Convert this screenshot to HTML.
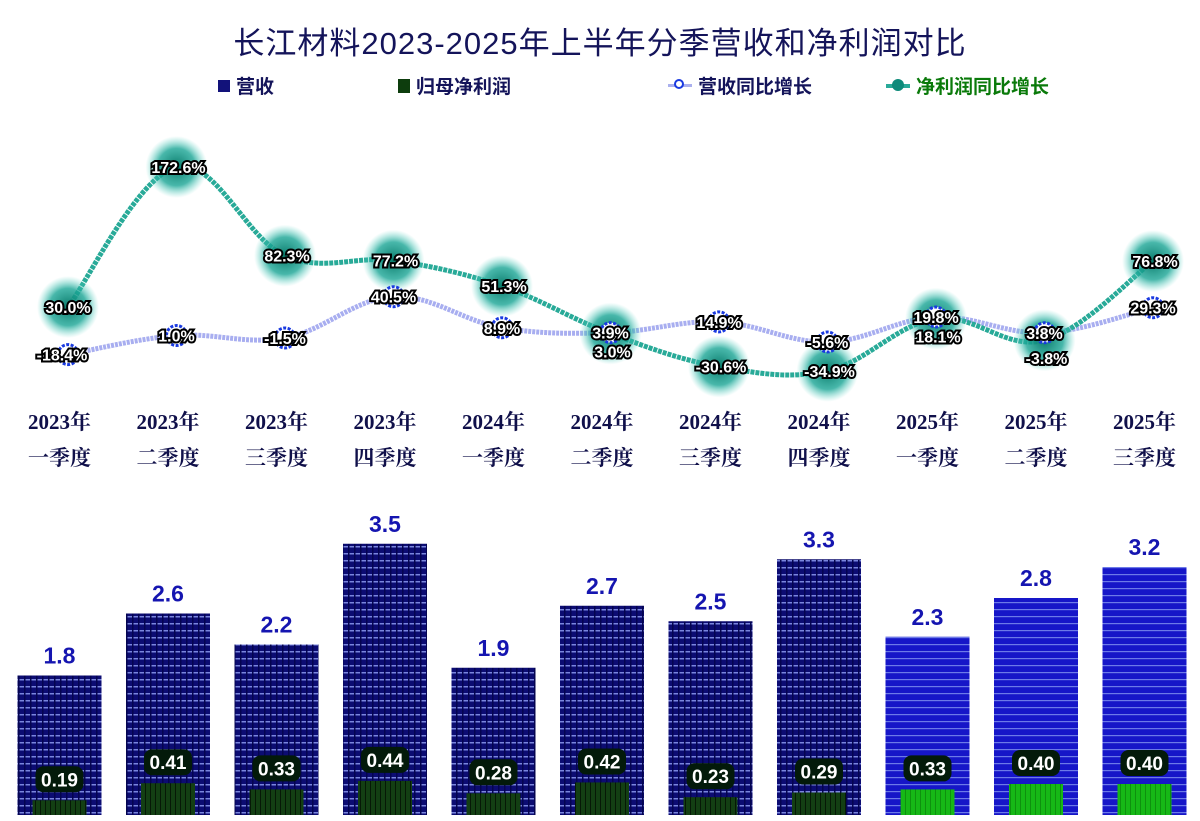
<!DOCTYPE html>
<html><head><meta charset="utf-8">
<style>
body{margin:0;width:1200px;height:821px;background:#fff;overflow:hidden;position:relative;font-family:"Liberation Sans","Noto Sans CJK SC",sans-serif}
#title{position:absolute;left:0;width:1200px;top:18px;text-align:center;font-size:31px;color:#14145a;font-family:"Liberation Sans","Noto Sans CJK SC",sans-serif;letter-spacing:1px}
.leg{position:absolute;top:72px;font-size:19px;font-weight:bold;color:#14145a;display:flex;align-items:center;gap:6px}
.xl{position:absolute;width:108px;text-align:center;font-family:"Liberation Serif","Noto Serif CJK SC",serif;font-weight:bold;font-size:21px;color:#10104a}
</style></head><body>
<div id="title">长江材料2023-2025年上半年分季营收和净利润对比</div>
<div class="leg" style="left:218px"><span style="width:12px;height:12px;background:#12127a;display:inline-block"></span>营收</div>
<div class="leg" style="left:398px"><span style="width:12px;height:14px;background:#0d3d0d;display:inline-block"></span>归母净利润</div>
<div class="leg" style="left:668px"><span style="width:24px;height:3px;background:#aab0ee;display:inline-block;position:relative"><i style="position:absolute;left:6px;top:-5px;width:10px;height:10px;border:2px solid #1a3ae0;border-radius:50%;box-sizing:border-box;background:#fff"></i></span>营收同比增长</div>
<div class="leg" style="left:886px;color:#0a7a0a"><span style="width:24px;height:4px;background:#2aaa99;display:inline-block;position:relative"><i style="position:absolute;left:6px;top:-5px;width:12px;height:12px;background:#0e8a7a;border-radius:50%"></i></span>净利润同比增长</div>
<svg id="chart" width="1200" height="821" style="position:absolute;left:0;top:0">
<defs>
<pattern id="pd" width="6" height="7" patternUnits="userSpaceOnUse"><rect width="6" height="7" fill="#0c0c72"/><rect y="0" width="6" height="1.5" fill="#7a86dd"/><rect x="0" width="1.5" height="7" fill="#050550"/></pattern>
<pattern id="pb" width="6" height="7" patternUnits="userSpaceOnUse"><rect width="6" height="7" fill="#1616c8"/><rect y="0" width="6" height="1.2" fill="#6c7ae8"/></pattern>
<pattern id="gd" width="5" height="5" patternUnits="userSpaceOnUse"><rect width="5" height="5" fill="#133f13"/><rect width="1" height="5" fill="#061806"/></pattern>
<pattern id="gb" width="5" height="5" patternUnits="userSpaceOnUse"><rect width="5" height="5" fill="#16b816"/><rect width="1" height="5" fill="#0e900e"/></pattern>
<radialGradient id="glow"><stop offset="0" stop-color="#0a7a6a"/><stop offset="0.6" stop-color="#1aa595" stop-opacity="0.8"/><stop offset="1" stop-color="#5fd6c8" stop-opacity="0"/></radialGradient>
</defs>
</svg>
<script>
const categories=["2023年一季度","2023年二季度","2023年三季度","2023年四季度","2024年一季度","2024年二季度","2024年三季度","2024年四季度","2025年一季度","2025年二季度","2025年三季度"];
const revenue=[1.8,2.6,2.2,3.5,1.9,2.7,2.5,3.3,2.3,2.8,3.2];
const netProfit=[0.19,0.41,0.33,0.44,0.28,0.42,0.23,0.29,0.33,0.40,0.40];
const revenueGrowth=[-18.4,1.0,-1.5,40.5,8.9,3.9,14.9,-5.6,19.8,3.8,29.3];
const netGrowth=[30.0,172.6,82.3,77.2,51.3,3.0,-30.6,-34.9,18.1,-3.8,76.8];
const svg=document.getElementById('chart');
const NS='http://www.w3.org/2000/svg';
function mk(t,a){const e=document.createElementNS(NS,t);for(const k in a)e.setAttribute(k,a[k]);svg.appendChild(e);return e;}
const base=815, yb=v=>base-v*77.5, xb=i=>59.5+i*108.5, xp=i=>68+i*108.5, yp=v=>336.5-v*0.982;
categories.forEach((c,i)=>{
 const bright=i>=8;
 const r=mk('rect',{x:xb(i)-42,y:yb(revenue[i]),width:84,height:base-yb(revenue[i]),fill:bright?'url(#pb)':'url(#pd)'});
 
 const t=mk('text',{x:xb(i),y:yb(revenue[i])-12,'text-anchor':'middle','font-size':23,'font-weight':'bold',fill:'#1515b0','font-family':'Liberation Sans, sans-serif'});t.textContent=revenue[i].toFixed(1);
 
 const n=mk('rect',{x:xb(i)-27,y:yb(netProfit[i]),width:54,height:base-yb(netProfit[i]),fill:bright?'url(#gb)':'url(#gd)'});
 
 const ly=yb(netProfit[i])-22;
 const bx=mk('rect',{x:xb(i)-24,y:ly-12,width:48,height:26,rx:8,fill:'#031a0a'});
 
 const nt=mk('text',{x:xb(i),y:ly+8,'text-anchor':'middle','font-size':19,'font-weight':'bold',fill:'#fff','font-family':'Liberation Sans, sans-serif'});nt.textContent=netProfit[i].toFixed(2);
 
 const d=document.createElement('div');d.className='xl';d.style.left=(xb(i)-54)+'px';d.style.top='406px';
 d.innerHTML=c.slice(0,5)+'<br><span style="line-height:44px">'+c.slice(5)+'</span>';
 
 document.body.appendChild(d);
});
function path(vals){const p=vals.map((v,i)=>[xp(i),yp(v)]);let d='M'+p[0][0]+','+p[0][1];
 for(let i=0;i<p.length-1;i++){const p0=p[i-1]||p[i],p1=p[i],p2=p[i+1],p3=p[i+2]||p2;const t=0.18;
 d+=` C${p1[0]+(p2[0]-p0[0])*t},${p1[1]+(p2[1]-p0[1])*t} ${p2[0]-(p3[0]-p1[0])*t},${p2[1]-(p3[1]-p1[1])*t} ${p2[0]},${p2[1]}`;}return d;}
const lr=mk('path',{d:path(revenueGrowth),stroke:'#a8aef0',fill:'none','stroke-width':5,'stroke-dasharray':'3 1'});

const ln=mk('path',{d:path(netGrowth),stroke:'#28aa98',fill:'none','stroke-width':5,'stroke-dasharray':'4 1'});

netGrowth.forEach((v,i)=>{const g=mk('circle',{cx:xp(i),cy:yp(v),r:31,fill:'url(#glow)'});
 });
revenueGrowth.forEach((v,i)=>{const c=mk('circle',{cx:xp(i),cy:yp(v),r:10,fill:'#fff',stroke:'#1a3ae0','stroke-width':3,'stroke-dasharray':'3 1.5'});
 });
function lbl(x,y,s,name){const t=mk('text',{x:x,y:y,'text-anchor':'middle','font-size':16,'font-weight':'bold',fill:'#fff',stroke:'#000','stroke-width':4,'paint-order':'stroke','font-family':'Liberation Sans, sans-serif'});t.textContent=s;
 }
netGrowth.forEach((v,i)=>{const below=v<revenueGrowth[i]&&Math.abs(v-revenueGrowth[i])<25;lbl(xp(i)+(i==0?0:2),yp(v)+(below?24:6),v.toFixed(1)+'%','net-growth-label');});
revenueGrowth.forEach((v,i)=>{lbl(xp(i)-(i==0?6:0),yp(v)+6,v.toFixed(1)+'%','revenue-growth-label');});
</script>
</body></html>
